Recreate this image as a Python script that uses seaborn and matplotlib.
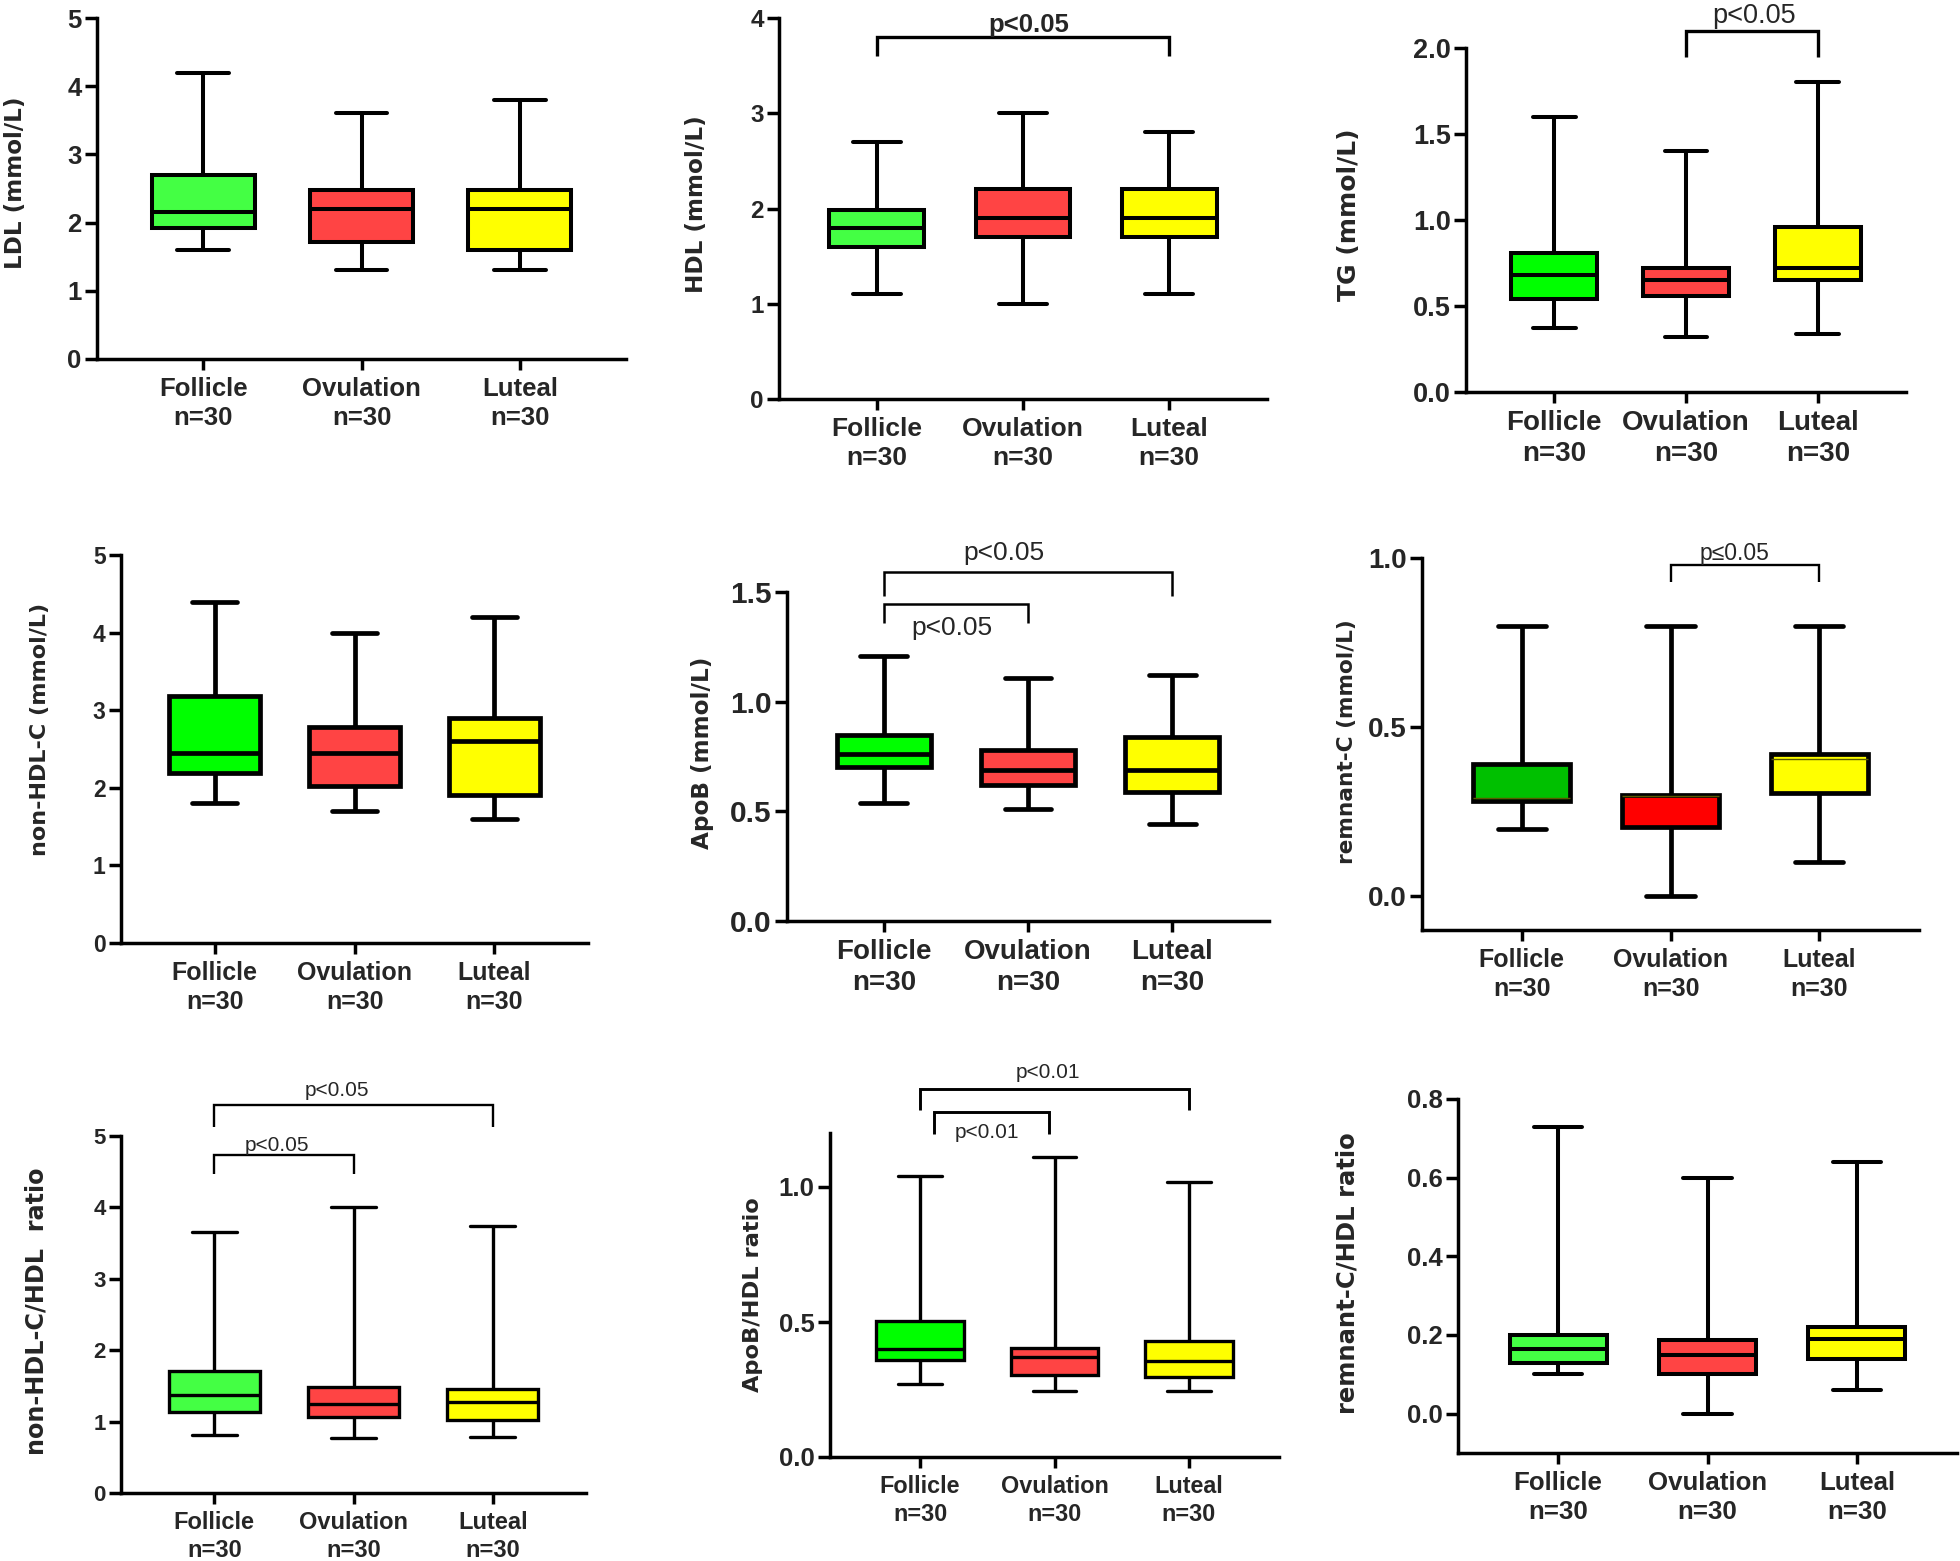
"""
Lipid profile across menstrual phases: 3x3 grid of box plots
(min / Q1 / median / Q3 / max per phase) with significance brackets.
"""
import numpy as np
import pandas as pd
import matplotlib
matplotlib.use("Agg")
import matplotlib.pyplot as plt
import seaborn as sns

PHASES = ["Follicle", "Ovulation", "Luteal"]
N_PER_PHASE = [30, 30, 30]

# five-number summaries (min, Q1, median, Q3, max), one row per phase
LDL = [[1.6, 1.92, 2.15, 2.70, 4.2], [1.3, 1.72, 2.20, 2.48, 3.6], [1.3, 1.60, 2.20, 2.48, 3.8]]
HDL = [[1.1, 1.60, 1.80, 1.98, 2.7], [1.0, 1.70, 1.90, 2.20, 3.0], [1.1, 1.70, 1.90, 2.20, 2.8]]
TG = [[0.37, 0.54, 0.68, 0.81, 1.6], [0.32, 0.56, 0.65, 0.72, 1.4], [0.34, 0.65, 0.72, 0.96, 1.8]]
NON_HDL_C = [[1.8, 2.19, 2.45, 3.18, 4.4], [1.7, 2.02, 2.45, 2.78, 4.0], [1.6, 1.91, 2.60, 2.90, 4.2]]
APOB = [[0.54, 0.70, 0.76, 0.85, 1.21], [0.51, 0.62, 0.69, 0.78, 1.11], [0.44, 0.59, 0.69, 0.84, 1.12]]
REMNANT_C = [[0.20, 0.28, 0.29, 0.39, 0.80], [0.0, 0.205, 0.295, 0.30, 0.80], [0.10, 0.305, 0.405, 0.42, 0.80]]
NON_HDL_HDL_RATIO = [[0.81, 1.13, 1.37, 1.71, 3.65], [0.77, 1.06, 1.25, 1.48, 4.0], [0.79, 1.02, 1.27, 1.46, 3.74]]
APOB_HDL_RATIO = [[0.27, 0.36, 0.40, 0.505, 1.04], [0.245, 0.305, 0.37, 0.405, 1.11], [0.245, 0.295, 0.355, 0.43, 1.02]]
REMNANT_HDL_RATIO = [[0.10, 0.13, 0.165, 0.20, 0.73], [0.0, 0.10, 0.15, 0.187, 0.60], [0.06, 0.14, 0.19, 0.22, 0.64]]

Y_LABELS = ["LDL (mmol/L)", "HDL (mmol/L)", "TG (mmol/L)",
            "non-HDL-C (mmol/L)", "ApoB (mmol/L)", "remnant-C (mmol/L)",
            "non-HDL-C/HDL  ratio", "ApoB/HDL ratio", "remnant-C/HDL ratio"]
Y_TICKS = [[0, 1, 2, 3, 4, 5], [0, 1, 2, 3, 4], [0, 0.5, 1.0, 1.5, 2.0],
           [0, 1, 2, 3, 4, 5], [0, 0.5, 1.0, 1.5], [0, 0.5, 1.0],
           [0, 1, 2, 3, 4, 5], [0, 0.5, 1.0], [0, 0.2, 0.4, 0.6, 0.8]]
Y_LIMS = [(0, 5), (0, 4), (0, 2), (0, 5), (0, 1.5), (-0.1, 1.0), (0, 5), (0, 1.2), (-0.1, 0.8)]
Y_FMT = ["{:.0f}", "{:.0f}", "{:.1f}", "{:.0f}", "{:.1f}", "{:.1f}", "{:.0f}", "{:.1f}", "{:.1f}"]

DATA = [LDL, HDL, TG, NON_HDL_C, APOB, REMNANT_C, NON_HDL_HDL_RATIO, APOB_HDL_RATIO, REMNANT_HDL_RATIO]

# ---- layout / style ---------------------------------------------------------
FIG_W, FIG_H = 1960, 1561
# axes box in pixels: x0, x1, y_top, y_bottom
AX_BOX = [(97, 626, 18, 359), (779, 1267, 18, 399), (1466, 1906, 48, 392),
          (121, 588, 555, 943), (787, 1269, 592, 921), (1422, 1919, 558, 930),
          (121, 586, 1136, 1493), (830, 1279, 1133, 1457), (1458, 1957, 1099, 1453)]
# centre of the y label in pixels
YLABEL_XY = [(16, 183), (696, 204), (1349, 215), (40, 729), (702, 753), (1347, 742),
             (37, 1311), (753, 1295), (1347, 1273)]
YLABEL_SIZE = [16.6, 16.7, 18, 16, 16.7, 15.6, 17.2, 16.2, 17.5]
YTICK_SIZE = [18.5, 17.5, 19.5, 16.5, 21.5, 20, 16, 18.5, 18.5]
XTICK_SIZE = [18.5, 19, 20, 18, 20, 18, 17, 16.8, 18.6]
BOX_LW = [2.9, 2.9, 2.9, 3.4, 3.4, 3.4, 2.4, 2.4, 2.9]

GREEN, GREEN2, GREEN3 = "#44ff44", "#00ff00", "#00c000"
RED, RED2 = "#ff4444", "#ff0000"
YELLOW = "#ffff00"
PALETTES = [[GREEN, RED, YELLOW], [GREEN, RED, YELLOW], [GREEN2, RED, YELLOW],
            [GREEN2, RED, YELLOW], [GREEN2, RED, YELLOW], [GREEN3, RED2, YELLOW],
            [GREEN, RED, YELLOW], [GREEN2, RED, YELLOW], [GREEN, RED, YELLOW]]

SANS = ["Liberation Sans", "DejaVu Sans"]

# brackets: x1, x2, y_bar, y_leg, text, text_x, text_y(baseline), size, weight, lw
BRACKETS = {
    1: [(0, 2, 3.80, 3.60, "p<0.05", 1.04, 3.85, 18.5, "bold", 2.4)],
    2: [(1, 2, 2.10, 1.95, "p<0.05", 1.52, 2.145, 19.5, "normal", 2.4)],
    4: [(0, 2, 1.59, 1.48, "p<0.05", 0.83, 1.646, 19, "normal", 1.8),
        (0, 1, 1.445, 1.36, "p<0.05", 0.47, 1.304, 19, "normal", 1.8)],
    5: [(1, 2, 0.98, 0.93, "p\u22640.05", 1.43, 0.994, 16.5, "normal", 1.7)],
    6: [(0, 2, 5.43, 5.13, "p<0.05", 0.88, 5.56, 15, "normal", 1.7),
        (0, 1, 4.73, 4.47, "p<0.05", 0.45, 4.79, 15, "normal", 1.7)],
    7: [(0, 2, 1.364, 1.285, "p<0.01", 0.95, 1.405, 15, "normal", 2.1),
        (0.1, 0.96, 1.278, 1.198, "p<0.01", 0.5, 1.182, 15, "normal", 2.1)],
}

sns.set_style("ticks")
plt.rcParams["font.family"] = SANS
plt.rcParams["axes.linewidth"] = 2.5

categories = [f"{p}\nn={n}" for p, n in zip(PHASES, N_PER_PHASE)]

fig = plt.figure(figsize=(FIG_W / 100, FIG_H / 100), dpi=100)

for i, values in enumerate(DATA):
    x0, x1, yt, yb = AX_BOX[i]
    ax = fig.add_axes([x0 / FIG_W, 1 - yb / FIG_H, (x1 - x0) / FIG_W, (yb - yt) / FIG_H])

    df = pd.DataFrame({"phase": np.repeat(categories, len(values[0])),
                       "value": np.concatenate(values)})
    med = {"linewidth": 1.0, "color": "#5a5a00"} if i == 5 else {}
    sns.boxplot(data=df, x="phase", y="value", hue="phase", order=categories,
                hue_order=categories, palette=PALETTES[i], saturation=1,
                width=0.65, whis=(0, 100), dodge=False, linewidth=BOX_LW[i],
                linecolor="black", legend=False, medianprops=med, ax=ax)

    ax.set_xlim(-0.67, 2.67)
    ax.set_ylim(*Y_LIMS[i])
    ax.set_yticks(Y_TICKS[i])
    ax.set_yticklabels([Y_FMT[i].format(t) for t in Y_TICKS[i]],
                       fontsize=YTICK_SIZE[i], fontweight="bold")
    ax.set_xticks(range(len(categories)))
    ax.set_xticklabels(categories, fontsize=XTICK_SIZE[i], fontweight="bold",
                       linespacing=1.27)
    ax.tick_params(axis="x", length=8, width=2.5, pad=5, color="black")
    ax.tick_params(axis="y", length=9, width=2.5, pad=2, color="black")
    sns.despine(ax=ax)
    for side in ("left", "bottom"):
        ax.spines[side].set_linewidth(2.5)
        ax.spines[side].set_color("black")

    ax.set_xlabel("")
    ax.set_ylabel(Y_LABELS[i], fontsize=YLABEL_SIZE[i], fontweight="bold",
                  family=["DejaVu Sans"], va="center")
    lx, ly = YLABEL_XY[i]
    ax.yaxis.set_label_coords((lx - x0) / (x1 - x0), (yb - ly) / (yb - yt))

    for (bx1, bx2, ybar, yleg, txt, tx, ty, size, weight, lw) in BRACKETS.get(i, []):
        ax.plot([bx1, bx1, bx2, bx2], [yleg, ybar, ybar, yleg], color="black",
                lw=lw, clip_on=False, solid_joinstyle="miter", solid_capstyle="butt")
        ax.text(tx, ty, txt, ha="center", va="baseline", fontsize=size,
                fontweight=weight, clip_on=False)

fig.savefig("out.png", dpi=100)
plt.close(fig)
